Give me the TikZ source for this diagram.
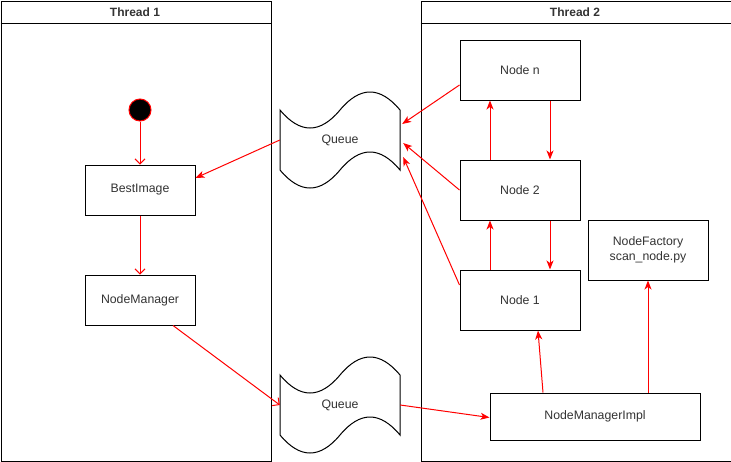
\documentclass[tikz,border=0pt]{standalone}
\usepackage{fontspec}
\setmainfont{Liberation Sans}
\usetikzlibrary{arrows.meta}
\definecolor{txt}{HTML}{333333}
\definecolor{lred}{HTML}{FF0000}
\tikzset{
  box/.style={draw=black, line width=1pt, fill=white, minimum width=#1, minimum height=50pt, inner sep=0pt, text=txt, font=\fontsize{12.3pt}{14.5pt}\selectfont, align=center},
  box/.default=110pt,
  lane/.style={draw=black, line width=1pt, minimum width=#1, minimum height=460pt, inner sep=0pt, anchor=north west},
  head/.style={font=\bfseries\fontsize{12pt}{14pt}\selectfont, text=txt},
  qlabel/.style={text=txt, font=\fontsize{12.3pt}{14pt}\selectfont, minimum width=120pt, minimum height=60pt, inner sep=0pt},
  wave/.style={draw=black, line width=1pt, fill=white},
  farr/.style={draw=lred, line width=1pt, -{Stealth[length=9pt,width=7pt,inset=2.5pt]}},
  oarr/.style={draw=lred, line width=1pt, -{Straight Barb[length=5pt,width=10pt]}},
}
\begin{document}
\begin{tikzpicture}[x=1pt,y=-1pt]
\useasboundingbox (0,0) rectangle (731,461);
% lanes
\node[lane=270pt] (lane1) at (0.5,0.5) {};
\draw[line width=1pt] (0.5,23) -- (270.5,23);
\node[head] (h1) at (135,12) {Thread 1};
\node[lane=310pt] (lane2) at (420.5,0.5) {};
\draw[line width=1pt] (420.5,23) -- (730.5,23);
\node[head] (h2) at (575,12) {Thread 2};
% queues
\draw[wave] (280,110) .. controls (300,134) and (320,134) .. (340,110)
  .. controls (360,86) and (380,86) .. (400,110) -- (400,170)
  .. controls (380,146) and (360,146) .. (340,170)
  .. controls (320,194) and (300,194) .. (280,170) -- cycle;
\node[qlabel] (q1) at (340,140) {Queue};
\draw[wave] (280,375) .. controls (300,399) and (320,399) .. (340,375)
  .. controls (360,351) and (380,351) .. (400,375) -- (400,435)
  .. controls (380,411) and (360,411) .. (340,435)
  .. controls (320,459) and (300,459) .. (280,435) -- cycle;
\node[qlabel] (q2) at (340,405) {Queue};
% thread 1
\node[circle, draw=lred, fill=black, line width=1pt, minimum size=22pt, inner sep=0pt] (start) at (140,110) {};
\node[box] (best) at (140,190) {BestImage};
\node[box] (nm) at (140,300) {NodeManager};
% thread 2
\node[box=120pt, minimum height=60pt] (nn) at (520,70) {Node n};
\node[box=120pt, minimum height=60pt] (n2) at (520,190) {Node 2};
\node[box=120pt, minimum height=60pt] (n1) at (520,300) {Node 1};
\node[box=120pt, minimum height=60pt] (nf) at (648,250) {NodeFactory\\scan\_node.py};
\node[box=210pt, minimum height=47pt] (nmi) at (595,416.5) {NodeManagerImpl};
% connectors
\draw[oarr] (start) -- (best);
\draw[oarr] (best) -- (nm);
\draw[oarr] ([xshift=33pt]nm.south) -- (q2.west);
\draw[farr] (q1.west) -- ([yshift=12pt]best.east);
\draw[farr] (q2.east) -- ([yshift=-1pt]nmi.west);
\draw[farr] ([yshift=-15pt]nn.west) -- ([xshift=2pt,yshift=16pt]q1.east);
\draw[farr] (n2.west) -- ([xshift=3pt,yshift=-3pt]q1.east);
\draw[farr] ([yshift=15pt]n1.west) -- ([xshift=3pt,yshift=-17pt]q1.east);
\draw[farr] ([xshift=-30pt]n2.north) -- ([xshift=-30pt]nn.south);
\draw[farr] ([xshift=30pt]nn.south) -- ([xshift=30pt]n2.north);
\draw[farr] ([xshift=-30pt]n1.north) -- ([xshift=-30pt]n2.south);
\draw[farr] ([xshift=30pt]n2.south) -- ([xshift=30pt]n1.north);
\draw[farr] ([xshift=-52pt]nmi.north) -- ([xshift=18pt]n1.south);
\draw[farr] ([xshift=53pt]nmi.north) -- (nf.south);
\end{tikzpicture}
\end{document}
